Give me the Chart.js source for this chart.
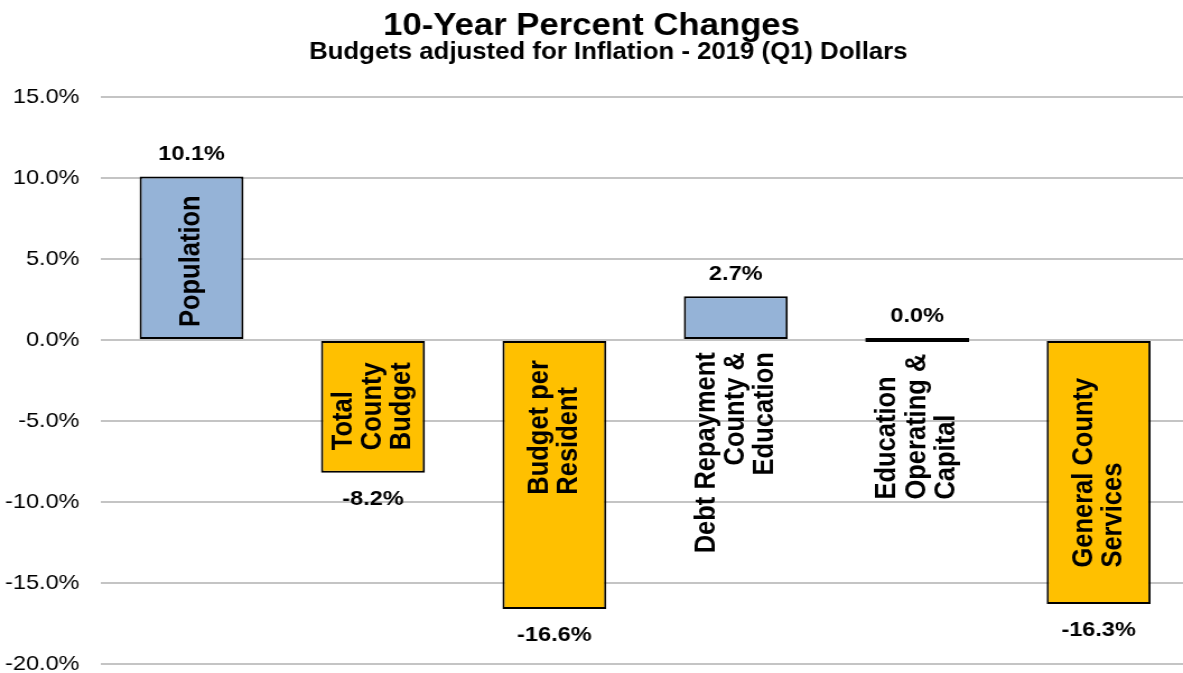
<!DOCTYPE html>
<html>
<head>
<meta charset="utf-8">
<title>10-Year Percent Changes</title>
<script src="https://cdn.jsdelivr.net/npm/chart.js@4.4.1/dist/chart.umd.min.js"></script>
<style>
    html, body { margin: 0; padding: 0; background: #fff; overflow: hidden; }
    #changeChart { display: block; }
</style>
</head>
<body>
<!-- drawn at 1056 wide and stretched to 1183, like the original picture -->
<canvas id="changeChart" width="1056" height="673" style="width:1183px;height:673px;"></canvas>
<script>
// ============================================
// Data
// ============================================
const chartTitle = '10-Year Percent Changes';
const chartSubtitle = 'Budgets adjusted for Inflation - 2019 (Q1) Dollars';
const categories = [
    ['Population'],
    ['Total', 'County', 'Budget'],
    ['Budget per', 'Resident'],
    ['Debt Repayment', 'County &', 'Education'],
    ['Education', 'Operating &', 'Capital'],
    ['General County', 'Services']
];
const percentChanges = [10.1, -8.2, -16.6, 2.7, 0.0, -16.3];
const yTicks = [15, 10, 5, 0, -5, -10, -15, -20];

// where each rotated category label sits (value on y axis) and how it is anchored
const labelAnchors = [0.8, -6.8, -9.55, -0.75, -9.85, -14.05];
const labelAlign = ['start', 'start', 'start', 'end', 'start', 'start'];

const BLUE = '#95B3D7';
const GOLD = '#FFC000';
const FONT = '"Liberation Sans", Arial, Helvetica, sans-serif';

// ============================================
// Titles plugin
// ============================================
const titles = {
    id: 'titles',
    afterDraw(chart) {
        const ctx = chart.ctx;
        ctx.save();
        ctx.fillStyle = '#000';
        ctx.textAlign = 'center';
        ctx.textBaseline = 'alphabetic';
        ctx.font = 'bold 31px ' + FONT;
        ctx.fillText(chartTitle, chart.width / 2, 35);
        ctx.font = 'bold 23px ' + FONT;
        ctx.fillText(chartSubtitle, chart.width / 2 + 15, 59);
        ctx.restore();
    }
};

// ============================================
// Labels plugin (values + rotated category names)
// ============================================
const barLabels = {
    id: 'barLabels',
    afterDatasetsDraw(chart) {
        const ctx = chart.ctx;
        const meta = chart.getDatasetMeta(0);
        const yScale = chart.scales.y;
        ctx.save();
        ctx.fillStyle = '#000';
        meta.data.forEach(function(bar, i) {
            const v = percentChanges[i];
            const top = Math.min(bar.y, bar.base);
            const bottom = Math.max(bar.y, bar.base);

            // value label
            ctx.font = 'bold 21px ' + FONT;
            ctx.textAlign = 'center';
            ctx.textBaseline = 'middle';
            ctx.fillText(v.toFixed(1) + '%', bar.x, v >= 0 ? top - 22 : bottom + 26);

            // category label, rotated
            const lines = categories[i];
            const spacing = 26.3;
            ctx.save();
            ctx.translate(bar.x, yScale.getPixelForValue(labelAnchors[i]));
            ctx.rotate(-Math.PI / 2);
            ctx.font = 'bold 25.5px ' + FONT;
            ctx.textAlign = labelAlign[i] === 'start' ? 'left' : 'right';
            lines.forEach(function(line, j) {
                ctx.fillText(line, 0, (j - (lines.length - 1) / 2) * spacing);
            });
            ctx.restore();
        });
        ctx.restore();
    }
};

// ============================================
// Chart
// ============================================
function initChart() {
    const ctx = document.getElementById('changeChart');
    new Chart(ctx.getContext('2d'), {
        type: 'bar',
        data: {
            datasets: [{
                data: percentChanges.map(function(v, i) { return { x: i, y: v }; }),
                backgroundColor: percentChanges.map(v => v >= 0 ? BLUE : GOLD),
                borderColor: '#000',
                borderWidth: 2,
                borderSkipped: false,
                minBarLength: 4,
                categoryPercentage: 1,
                barPercentage: 0.573
            }]
        },
        options: {
            responsive: false,
            devicePixelRatio: 1,
            animation: false,
            layout: { padding: { top: 97, bottom: 9, left: 0, right: 0 } },
            plugins: {
                legend: { display: false },
                tooltip: { enabled: false },
                title: { display: false }
            },
            scales: {
                x: {
                    type: 'linear',
                    display: false,
                    offset: false,
                    min: -0.5,
                    max: 5.465,
                    afterBuildTicks: function(scale) {
                        scale.ticks = percentChanges.map((v, i) => ({ value: i }));
                    },
                    grid: { display: false, offset: false }
                },
                y: {
                    min: -20,
                    max: 15,
                    border: { display: false },
                    // invisible tick marks keep the labels away from the plot
                    grid: {
                        color: '#C4C4C4',
                        lineWidth: 2,
                        drawTicks: true,
                        tickLength: 19,
                        tickColor: 'rgba(0,0,0,0)'
                    },
                    afterBuildTicks: function(scale) {
                        scale.ticks = yTicks.map(v => ({ value: v }));
                    },
                    afterFit: function(scale) {
                        scale.width = 90;
                        scale.paddingTop = 0;
                        scale.paddingBottom = 0;
                    },
                    ticks: {
                        padding: 0,
                        color: '#000',
                        font: { family: FONT, size: 21 },
                        callback: v => v.toFixed(1) + '%'
                    }
                }
            }
        },
        plugins: [barLabels, titles]
    });
}

document.addEventListener('DOMContentLoaded', initChart);
</script>
</body>
</html>
